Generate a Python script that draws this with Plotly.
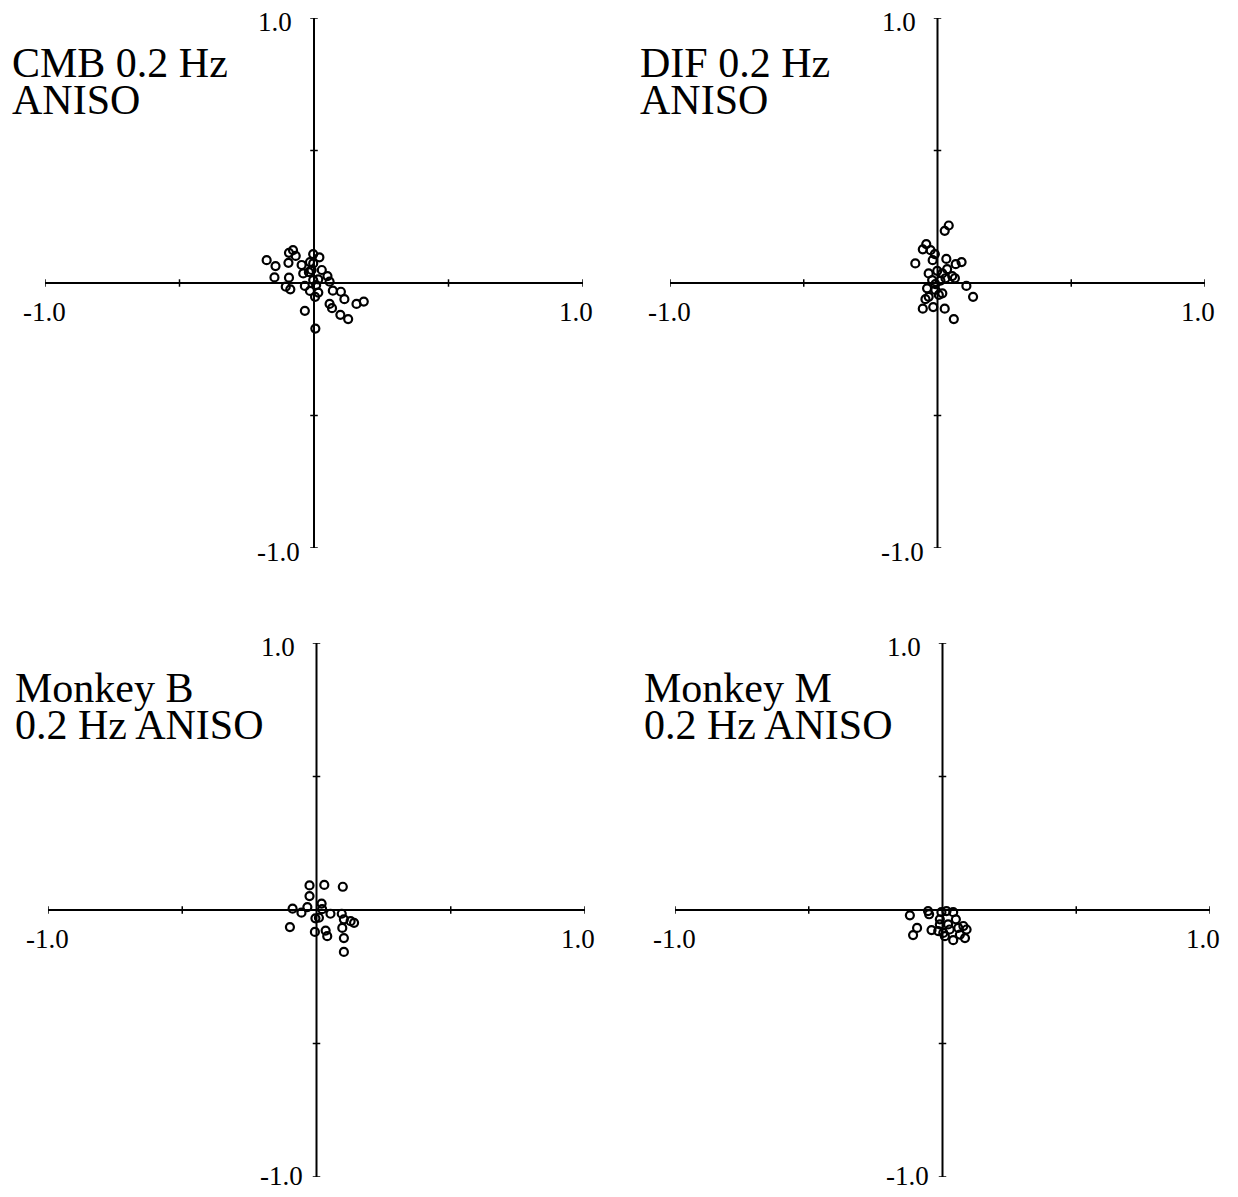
import plotly.graph_objects as go

# ---------------- data ----------------
cmb_x = [-0.176, -0.143, -0.147, -0.093, -0.078, -0.068, -0.095, -0.046, -0.040, -0.093,
         -0.105, -0.088, -0.034, -0.015, -0.003, 0.020, -0.003, -0.009, 0.029, 0.050,
         0.016, 0.058, -0.003, 0.016, 0.004, 0.070, 0.100, 0.113, 0.058, 0.067,
         0.098, 0.127, 0.158, 0.185, -0.034, 0.005, -0.015, -0.019, 0.008]
cmb_y = [0.086, 0.064, 0.021, 0.114, 0.124, 0.102, 0.076, 0.068, 0.036, 0.020,
         -0.014, -0.024, -0.011, -0.030, 0.109, 0.097, 0.074, 0.049, 0.049, 0.026,
         0.014, 0.005, 0.011, -0.036, -0.052, -0.029, -0.033, -0.061, -0.079, -0.095,
         -0.120, -0.136, -0.079, -0.070, -0.105, -0.172, 0.079, 0.041, -0.008]

dif_x = [0.027, 0.042, -0.042, -0.055, -0.026, -0.010, -0.018, -0.083, 0.033, 0.068,
         0.090, 0.036, -0.001, -0.033, 0.018, 0.055, 0.065, 0.030, -0.020, 0.011,
         0.108, 0.133, -0.039, -0.033, -0.045, -0.008, 0.005, 0.018, -0.055, -0.016,
         0.027, 0.061, -0.008]
dif_y = [0.197, 0.217, 0.147, 0.127, 0.124, 0.109, 0.086, 0.074, 0.091, 0.071,
         0.079, 0.052, 0.046, 0.036, 0.036, 0.026, 0.018, 0.018, 0.011, 0.009,
         -0.011, -0.052, -0.020, -0.052, -0.061, -0.026, -0.045, -0.039, -0.097, -0.091,
         -0.097, -0.136, -0.004]

mkb_x = [-0.026, 0.029, 0.098, -0.026, -0.089, -0.056, -0.034, 0.019, 0.021, 0.052,
         0.009, -0.004, 0.094, 0.102, 0.127, 0.140, 0.096, -0.099, -0.006, 0.034,
         0.040, 0.102, 0.102]
mkb_y = [0.092, 0.094, 0.087, 0.052, 0.005, -0.010, 0.011, 0.024, 0.003, -0.014,
         -0.029, -0.031, -0.014, -0.035, -0.042, -0.048, -0.067, -0.064, -0.082, -0.077,
         -0.098, -0.105, -0.157]

mkm_x = [-0.122, -0.054, -0.050, -0.095, -0.110, -0.041, -0.016, 0.003, -0.004, 0.015,
         0.040, -0.010, -0.010, 0.021, 0.050, 0.027, 0.059, 0.078, 0.090, 0.084,
         0.040, 0.065, 0.009]
mkm_y = [-0.020, -0.004, -0.016, -0.067, -0.094, -0.075, -0.079, -0.086, -0.008, -0.004,
         -0.008, -0.035, -0.054, -0.054, -0.035, -0.073, -0.067, -0.060, -0.073, -0.105,
         -0.113, -0.092, -0.098]

title_lines = [["CMB 0.2 Hz", "ANISO"], ["DIF 0.2 Hz", "ANISO"],
               ["Monkey B", "0.2 Hz ANISO"], ["Monkey M", "0.2 Hz ANISO"]]
tick_vals = [-1.0, -0.5, 0.5, 1.0]
end_labels = ["-1.0", "1.0"]

# ---------------- layout geometry (screen pixels) ----------------
OFF = 8                      # page body margin
W, H = 1238 - 2 * OFF, 1197 - 2 * OFF
panels = [  # x-left, x-right, y-top, y-bottom in screen pixels
    (45, 583, 18, 548),
    (670, 1205, 18, 548),
    (48, 585, 643, 1177),
    (675, 1210, 643, 1177),
]
bottom_label_shift = [-4, -4, 1, 1]
title_pos = [(10, 63, 100), (638, 63, 100), (13, 688, 725), (642, 688, 725)]
datasets = [(cmb_x, cmb_y), (dif_x, dif_y), (mkb_x, mkb_y), (mkm_x, mkm_y)]


def px(X):
    return (X - OFF) / W


def py(Y):
    return 1 - (Y - OFF) / H


FONT = "Liberation Serif, Times New Roman, serif"
fig = go.Figure()
shapes = []
annotations = []

for i, ((x0, x1, yt, yb), (xs, ys)) in enumerate(zip(panels, datasets)):
    n = "" if i == 0 else str(i + 1)
    xa, ya = "x" + n, "y" + n
    fig.add_trace(go.Scatter(
        x=xs, y=ys, mode="markers", xaxis=xa, yaxis=ya, showlegend=False,
        marker=dict(symbol="circle-open", size=8, color="black",
                    line=dict(width=2.2, color="black")),
    ))
    fig.layout["xaxis" + n] = dict(
        domain=[px(x0), px(x1)], range=[-1, 1], visible=False, anchor=ya, fixedrange=True)
    fig.layout["yaxis" + n] = dict(
        domain=[py(yb), py(yt)], range=[-1, 1], visible=False, anchor=xa, fixedrange=True)

    line = dict(color="black", width=2)
    shapes.append(dict(type="line", xref=xa, yref=ya, x0=-1, x1=1, y0=0, y1=0, line=line))
    shapes.append(dict(type="line", xref=xa, yref=ya, x0=0, x1=0, y0=-1, y1=1, line=line))
    tl = 0.014
    for t in tick_vals:
        shapes.append(dict(type="line", xref=xa, yref=ya, x0=t, x1=t, y0=-tl, y1=tl,
                           line=dict(color="black", width=1.5)))
        shapes.append(dict(type="line", xref=xa, yref=ya, x0=-tl, x1=tl, y0=t, y1=t,
                           line=dict(color="black", width=1.5)))

    fs = 27
    fnt = dict(family=FONT, size=fs, color="black")
    # vertical axis end labels
    annotations.append(dict(x=0, y=1, xref=xa, yref=ya, text=end_labels[1], showarrow=False,
                            xanchor="right", yanchor="middle", xshift=-20, yshift=-4, font=fnt))
    annotations.append(dict(x=0, y=-1, xref=xa, yref=ya, text=end_labels[0], showarrow=False,
                            xanchor="right", yanchor="middle", xshift=-12,
                            yshift=bottom_label_shift[i], font=fnt))
    # horizontal axis end labels
    annotations.append(dict(x=-1, y=0, xref=xa, yref=ya, text=end_labels[0], showarrow=False,
                            xanchor="center", yanchor="middle", xshift=-1, yshift=-29, font=fnt))
    annotations.append(dict(x=1, y=0, xref=xa, yref=ya, text=end_labels[1], showarrow=False,
                            xanchor="center", yanchor="middle", xshift=-7, yshift=-29, font=fnt))
    # panel title (two lines, tight spacing)
    tx, ty1, ty2 = title_pos[i]
    for txt, ty in zip(title_lines[i], (ty1, ty2)):
        annotations.append(dict(x=px(tx), y=py(ty), xref="paper", yref="paper",
                                text=txt, showarrow=False, align="left",
                                xanchor="left", yanchor="middle",
                                font=dict(family=FONT, size=42, color="black")))

fig.update_layout(
    width=W, height=H, margin=dict(l=0, r=0, t=0, b=0),
    paper_bgcolor="white", plot_bgcolor="white",
    shapes=shapes, annotations=annotations,
)
fig.write_html("out.html")
